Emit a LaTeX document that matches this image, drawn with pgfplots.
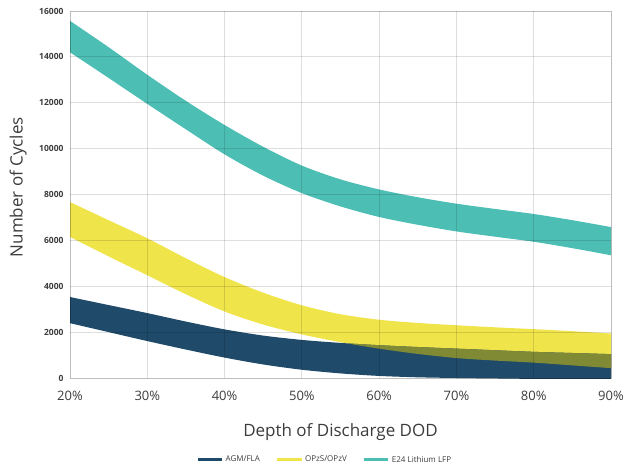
\documentclass[border=0pt]{standalone}
\usepackage{pgfplots}
\pgfplotsset{compat=1.18}
\usepackage{pgfplotstable}
\usepgfplotslibrary{fillbetween}
\usepackage{fontspec}
\setmainfont{Open Sans}
\definecolor{tealC}{RGB}{77,190,180}
\definecolor{yellowC}{RGB}{240,228,75}
\definecolor{blueC}{RGB}{31,74,105}
\definecolor{oliveC}{RGB}{128,138,52}
\definecolor{txtC}{RGB}{60,60,60}
\pgfplotstableread{
x  tu    tl    yu   yl   bu   bl
20 15570 14200 7670 6150 3530 2390
25 14420 13080 6880 5300 3180 2000
30 13220 11950 6090 4480 2830 1610
35 12080 10840 5220 3650 2460 1240
40 11030 9750  4400 2900 2120 890
45 10080 8820  3720 2330 1850 590
50 9260  8060  3170 1900 1660 360
55 8660  7480  2780 1560 1530 200
60 8220  7020  2540 1280 1430 90
65 7880  6680  2400 1050 1350 30
70 7600  6390  2300 870  1280 0
75 7370  6160  2210 760  1210 -20
80 7150  5940  2130 670  1140 -40
85 6880  5660  2040 550  1090 -60
90 6580  5350  1940 430  1040 -80
}\data
\begin{document}
\begin{tikzpicture}
\begin{axis}[
  name=ax,
  scale only axis,
  width=541pt, height=367pt,
  xmin=20, xmax=90, ymin=0, ymax=16000,
  xtick={20,30,40,50,60,70,80,90},
  xticklabels={20\%,30\%,40\%,50\%,60\%,70\%,80\%,90\%},
  ytick={0,2000,4000,6000,8000,10000,12000,14000,16000},
  scaled y ticks=false,
  /pgf/number format/1000 sep={},
  /pgf/number format/assume math mode=true,
  major tick length=0pt,
  grid=major,
  grid style={draw=black, draw opacity=0.13, line width=0.8pt},
  axis line style={draw=black, draw opacity=0.15, line width=0.8pt},
  axis on top,
  xticklabel style={font=\fontsize{13}{15}\selectfont, text=txtC, yshift=-10pt},
  yticklabel style={font=\fontsize{8.5}{10}\selectfont\bfseries, text=txtC, xshift=-3pt},
  xlabel={Depth of Discharge DOD},
  ylabel={Number of Cycles},
  xlabel style={font=\fontsize{17}{20}\selectfont, text=txtC, at={(axis description cs:0.5,-0.147)}, anchor=center},
  ylabel style={font=\fontsize{17}{20}\selectfont, text=txtC, at={(axis description cs:-0.096,0.52)}, anchor=center},
  legend columns=3,
  legend style={at={(axis description cs:0.471,-0.223)}, anchor=center, draw=none, fill=none,
    font=\fontsize{8}{9}\selectfont, text=txtC,
    /tikz/every even column/.append style={column sep=14pt}},
  legend image code/.code={\draw[#1] (0cm,0cm) -- (0.85cm,0cm);},
]
\addplot[name path=tu, draw=none, smooth, forget plot] table[x=x,y=tu]{\data};
\addplot[name path=tl, draw=none, smooth, forget plot] table[x=x,y=tl]{\data};
\addplot[name path=yu, draw=none, smooth, forget plot] table[x=x,y=yu]{\data};
\addplot[name path=yl, draw=none, smooth, forget plot] table[x=x,y=yl]{\data};
\addplot[name path=bu, draw=none, smooth, forget plot] table[x=x,y=bu]{\data};
\addplot[name path=bl, draw=none, smooth, forget plot] table[x=x,y=bl]{\data};
\addplot[fill=tealC, draw=none, forget plot] fill between[of=tu and tl];
\addplot[fill=yellowC, draw=none, forget plot] fill between[of=yu and yl];
\addplot[fill=blueC, draw=none, forget plot] fill between[of=bu and bl];
\addplot[fill=oliveC, draw=none, forget plot] fill between[of=yl and bu, split,
  every segment no 0/.style={fill=none}];
\addlegendimage{blueC, line width=3pt}
\addlegendentry{AGM/FLA}
\addlegendimage{yellowC, line width=3pt}
\addlegendentry{OPzS/OPzV}
\addlegendimage{tealC, line width=3pt}
\addlegendentry{E24 Lithium LFP}
\end{axis}
\pgfresetboundingbox
\path[use as bounding box] ([shift={(-70pt,-93pt)}]ax.south west) rectangle ([shift={(24pt,11pt)}]ax.north east);
\end{tikzpicture}
\end{document}
